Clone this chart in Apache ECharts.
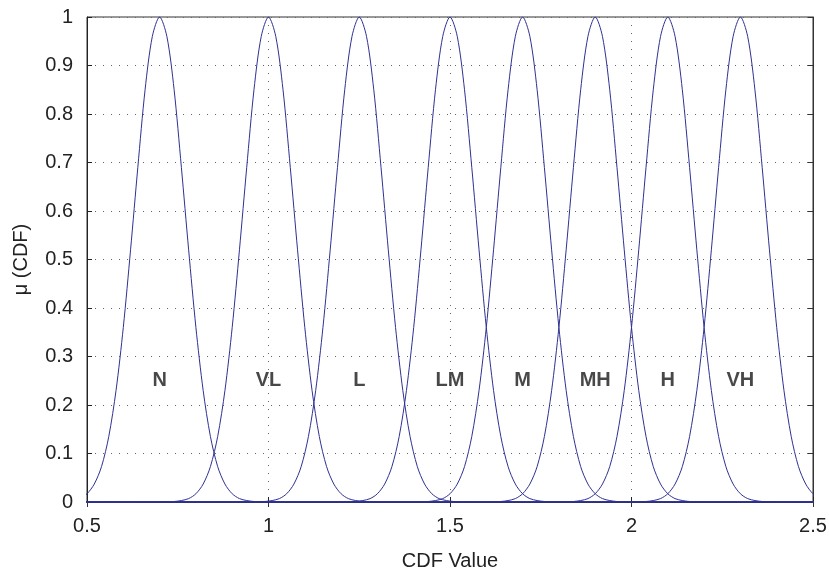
<!DOCTYPE html>
<html>
<head>
<meta charset="utf-8">
<script src="https://cdn.jsdelivr.net/npm/echarts@6/dist/echarts.min.js"></script>
<style>
  html, body { margin: 0; padding: 0; background: #fff; }
  #chart { width: 829px; height: 572px; }
</style>
</head>
<body>
<div id="chart"></div>
<script>
// membership function names and their centres on the CDF axis
const names = ['N', 'VL', 'L', 'LM', 'M', 'MH', 'H', 'VH']
const centers = [0.7, 1.0, 1.25, 1.5, 1.7, 1.9, 2.1, 2.3]
// bell shape: offset from centre -> membership
const offsets = [-2, -0.3, -0.28, -0.26, -0.24, -0.22, -0.2, -0.18, -0.16, -0.14, -0.12, -0.1, -0.08, -0.06, -0.04, -0.02,
  0, 0.02, 0.04, 0.06, 0.08, 0.1, 0.12, 0.14, 0.16, 0.18, 0.2, 0.22, 0.24, 0.26, 0.28, 0.3, 2]
const mu = [0, 0, 0.0005, 0.001, 0.003, 0.007, 0.017, 0.037, 0.073, 0.135, 0.23, 0.36, 0.52, 0.69, 0.85, 0.96,
  1, 0.96, 0.85, 0.69, 0.52, 0.36, 0.23, 0.135, 0.073, 0.037, 0.017, 0.007, 0.003, 0.001, 0.0005, 0, 0]
const labelY = 0.25

let chart = echarts.init(document.getElementById('chart'))
const font = 'Liberation Sans, Arial, sans-serif'
const lineColor = '#2e3192'

let curves = centers.map((c, i) => {
  return {
    name: names[i],
    type: 'line',
    smooth: 0.3,
    showSymbol: false,
    silent: true,
    lineStyle: { color: lineColor, width: 1 },
    data: offsets.map((o, j) => [c + o, mu[j]]),
  }
})

let labels = {
  type: 'scatter',
  symbolSize: 0,
  silent: true,
  label: {
    show: true,
    position: 'inside',
    formatter: p => p.data.name,
    fontFamily: font,
    fontWeight: 'bold',
    fontSize: 20,
    color: '#1a1a1a',
  },
  data: centers.map((c, i) => ({ name: names[i], value: [c, labelY] })),
}

const dotted = { color: '#666', width: 1, type: [1, 7] }
let options = {
  animation: false,
  grid: {
    left: 87, right: 16, top: 17, bottom: 70,
    outerBoundsMode: 'none',
    containLabel: false,
    show: true, borderColor: '#333', borderWidth: 1,
  },
  xAxis: [{
    type: 'value',
    min: 0.5, max: 2.5, interval: 0.5,
    name: 'CDF Value',
    nameLocation: 'middle',
    nameGap: 49,
    nameTextStyle: { fontFamily: font, fontSize: 20, color: '#222' },
    axisLine: { lineStyle: { color: '#222' } },
    axisTick: { inside: true, length: 5, lineStyle: { color: '#222' } },
    axisLabel: { fontFamily: font, fontSize: 20, color: '#222', margin: 14, formatter: v => String(v) },
    splitLine: { show: true, lineStyle: dotted },
  }, {
    type: 'value', position: 'top',
    min: 0.5, max: 2.5, interval: 0.5,
    axisLine: { show: true, lineStyle: { color: '#333' } },
    axisTick: { inside: true, length: 5, lineStyle: { color: '#333' } },
    axisLabel: { show: false },
    splitLine: { show: false },
  }],
  yAxis: [{
    type: 'value',
    min: 0, max: 1, interval: 0.1,
    name: 'μ (CDF)',
    nameLocation: 'middle',
    nameGap: 56,
    nameTextStyle: { fontFamily: font, fontSize: 20, color: '#222' },
    axisLine: { show: true, lineStyle: { color: '#222' } },
    axisTick: { show: true, inside: true, length: 5, lineStyle: { color: '#222' } },
    axisLabel: { fontFamily: font, fontSize: 20, color: '#222', margin: 14, formatter: v => String(+v.toFixed(1)) },
    splitLine: { show: true, lineStyle: dotted },
  }, {
    type: 'value', position: 'right',
    min: 0, max: 1, interval: 0.1,
    axisLine: { show: true, lineStyle: { color: '#333' } },
    axisTick: { show: true, inside: true, length: 5, lineStyle: { color: '#333' } },
    axisLabel: { show: false },
    splitLine: { show: false },
  }],
  series: [...curves, labels],
}
chart.setOption(options)
</script>
</body>
</html>
